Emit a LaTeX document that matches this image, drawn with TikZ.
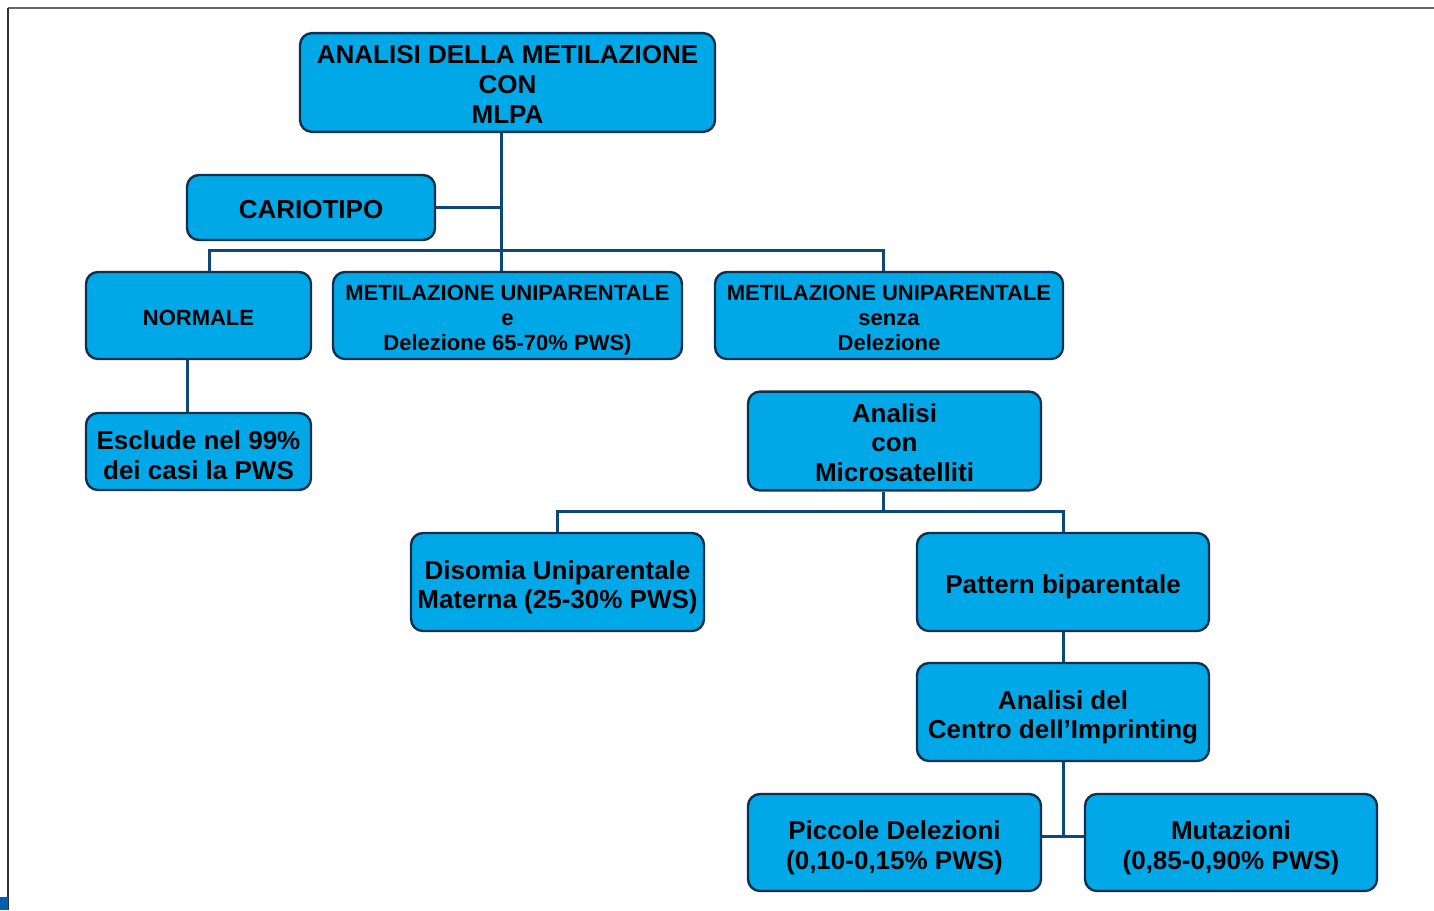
\documentclass[tikz,border=0pt]{standalone}
\usepackage{fontspec}
\setmainfont{Liberation Sans}
\definecolor{boxfill}{RGB}{0,168,232}
\definecolor{boxline}{RGB}{16,48,80}
\definecolor{conn}{RGB}{14,72,118}
\definecolor{markblue}{RGB}{0,96,176}
\newcommand\bt[2][6pt]{\raisebox{0pt}[\dimexpr\height+#1\relax][\depth]{\begin{tabular}{@{}c@{}}#2\end{tabular}}}
\begin{document}
\begin{tikzpicture}[x=0.5pt,y=-0.5pt,
  box/.style={draw=boxline, line width=1.2pt, fill=boxfill, rounded corners=6pt,
    font=\bfseries\fontsize{13}{14.8}\selectfont, inner sep=0pt},
  smallbox/.style={box, font=\bfseries\fontsize{11}{12.5}\selectfont},
  link/.style={draw=conn, line width=1.5pt}]
\useasboundingbox (0,0) rectangle (1434,910);
% frame
\draw[gray!80!black, line width=0.6pt] (8,8) -- (1434,8);
\draw[black!80, line width=1pt] (8,8) -- (8,910);
\fill[markblue] (0,897) rectangle (8,910);
% nodes
\node[box, minimum width=207.5pt, minimum height=48.5pt] (top) at (507.5,82.5)
  {\bt[5pt]{ANALISI DELLA METILAZIONE\\CON\\MLPA}};
\node[box, minimum width=124pt, minimum height=32.5pt] (cario) at (311,207.5) {\bt[5pt]{CARIOTIPO}};
\node[smallbox, minimum width=112.5pt, minimum height=43.5pt] (normale) at (198.5,315.5) {\bt[5pt]{NORMALE}};
\node[smallbox, minimum width=174.5pt, minimum height=43.5pt] (metE) at (507.5,315.5)
  {\bt[5pt]{METILAZIONE UNIPARENTALE\\e\\Delezione 65-70\% PWS)}};
\node[smallbox, minimum width=174pt, minimum height=43.5pt] (metS) at (889,315.5)
  {\bt[5pt]{METILAZIONE UNIPARENTALE\\senza\\Delezione}};
\node[box, minimum width=112.5pt, minimum height=38.5pt] (esclude) at (198.5,451.5)
  {\bt[7pt]{Esclude nel 99\%\\dei casi la PWS}};
\node[box, minimum width=146.5pt, minimum height=49pt] (anCon) at (894.5,441)
  {\bt[5pt]{Analisi\\con\\Microsatelliti}};
\node[box, minimum width=146.5pt, minimum height=49pt] (disomia) at (557.5,582)
  {\bt{Disomia Uniparentale\\Materna (25-30\% PWS)}};
\node[box, minimum width=146pt, minimum height=49pt] (pattern) at (1063,582)
  {\bt{Pattern biparentale}};
\node[box, minimum width=146pt, minimum height=49pt] (anDel) at (1063,712)
  {\bt{Analisi del\\Centro dell’Imprinting}};
\node[box, minimum width=146.5pt, minimum height=48.5pt] (piccole) at (894.5,842.5)
  {\bt{Piccole Delezioni\\(0,10-0,15\% PWS)}};
\node[box, minimum width=146pt, minimum height=48.5pt] (mutaz) at (1231,842.5)
  {\bt{Mutazioni\\(0,85-0,90\% PWS)}};
% helper coordinates
\coordinate (vx) at (501,0);
\coordinate (b1) at (209,250);
\coordinate (b2) at (883,250);
\coordinate (e1) at (187,0);
\coordinate (c0) at (883,511);
\coordinate (d0) at (0,836);
% connectors
\draw[link] (top.south -| vx) -- (metE.north -| vx);
\draw[link] (cario.east) -- (cario.east -| vx);
\draw[link] (normale.north -| b1) -- (b1) -- (b2) -- (metS.north -| b2);
\draw[link] (normale.south -| e1) -- (esclude.north -| e1);
\draw[link] (anCon.south -| c0) -- (c0);
\draw[link] (disomia.north) -- (disomia.north |- c0) -- (pattern.north |- c0) -- (pattern.north);
\draw[link] (pattern.south) -- (anDel.north);
\draw[link] (anDel.south) -- (anDel.south |- d0);
\draw[link] (piccole.east |- d0) -- (mutaz.west |- d0);
\end{tikzpicture}
\end{document}
